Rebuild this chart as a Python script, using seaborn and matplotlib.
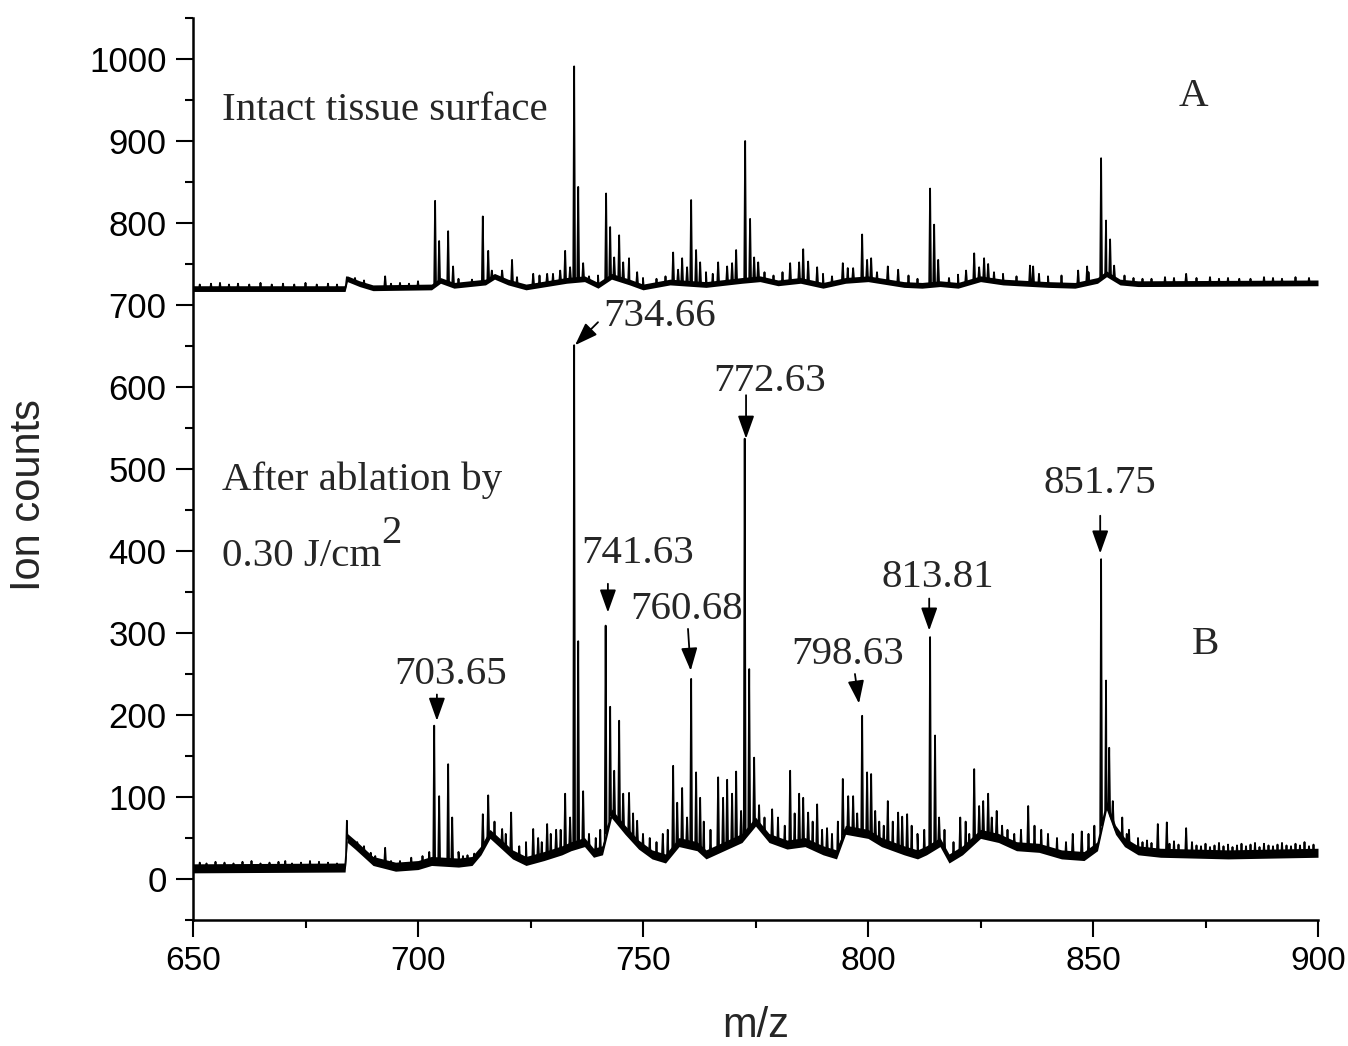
import numpy as np
import pandas as pd
import matplotlib
matplotlib.use("Agg")
import matplotlib.pyplot as plt
import seaborn as sns

# ------------------------------------------------------------------ data
# Trace A (intact tissue surface, offset spectrum)
A_base_mz = [650, 683.8, 684.3, 687, 690, 703, 705, 708, 715, 717, 720, 724, 733, 737, 740,
             743, 747, 750, 756, 764, 772, 776, 780, 785, 790, 795, 800, 808, 812, 816, 820,
             825, 830, 840, 846, 851, 853, 856, 860, 900]
A_base_val = [720, 720, 732, 726, 721, 722, 730, 724, 728, 735, 728, 722, 730, 732, 724,
              735, 728, 722, 728, 725, 730, 732, 727, 730, 724, 730, 732, 725, 724, 726, 724,
              732, 728, 725, 724, 730, 738, 728, 726, 727]
A_peak_mz = [684.2, 692.7, 703.8, 704.7, 706.7, 707.8, 714.4, 715.6, 716.4, 718.7, 720.9,
             725.6, 728.7, 731.6, 732.7, 733.8, 734.7, 735.6, 736.7, 741.8, 742.7, 743.6,
             744.7, 745.6, 746.9, 748.7, 756.7, 757.8, 758.7, 759.8, 760.7, 761.8, 762.7,
             766.7, 768.7, 769.8, 770.7, 772.7, 773.8, 774.7, 775.6, 782.7, 784.7, 785.6,
             786.7, 788.7, 794.4, 796.7, 798.7, 799.8, 800.7, 804.4, 806.7, 813.8, 814.7,
             815.6, 821.8, 823.6, 824.7, 825.8, 826.7, 836.0, 836.7, 846.7, 848.7, 851.8,
             852.9, 853.8, 854.7, 870.7]
A_peak_val = [734, 735, 827, 778, 790, 747, 808, 766, 742, 742, 755,
              738, 738, 742, 766, 746, 991, 844, 751, 836, 795, 758,
              785, 752, 757, 740, 764, 743, 757, 746, 828, 767, 752,
              752, 747, 751, 767, 900, 805, 758, 752, 751, 752, 768,
              753, 746, 751, 745, 786, 755, 757, 747, 743, 842, 798,
              755, 742, 763, 746, 757, 750, 748, 747, 742, 747, 879,
              803, 780, 748, 738]
A_minor_mz = [651.5, 654, 656, 658, 660, 662.5, 665, 667.5, 670, 672.5, 675, 677.5, 680, 682,
              686, 688, 694, 696, 698, 700, 709, 712, 722, 727, 730, 738, 740, 750, 753, 755,
              764, 765.5, 777, 779, 781, 790, 792, 795.5, 802, 809, 811, 818, 820, 828, 830,
              833, 838, 840, 843, 849, 857, 859, 861, 863, 866, 868, 873, 876, 878, 880, 882.5,
              885, 888, 890, 892, 895, 898]
A_minor_val = [725, 726, 727, 725, 726, 725, 727, 725, 726, 725, 727, 725, 726, 725,
               733, 730, 726, 727, 726, 729, 732, 731, 734, 736, 738, 735, 736, 733, 732, 735,
               740, 738, 740, 736, 740, 738, 735, 745, 740, 736, 732, 733, 737, 740, 738,
               735, 738, 735, 736, 740, 736, 733, 732, 732, 734, 733, 733, 734, 732, 733, 732,
               732, 734, 733, 732, 734, 733]
A_noise = 3.5

# Trace B (after ablation by 0.30 J/cm2)
B_base_mz = [650, 683.8, 684.3, 686, 688, 690, 695, 700, 703, 709, 712, 714, 716, 718, 721,
             724, 728, 732, 734, 737, 739, 741, 743, 746, 749, 752, 755, 758, 762, 764, 766,
             770, 772, 775, 778, 782, 786, 790, 793, 795, 800, 803, 808, 811, 813, 816, 818,
             821, 825, 829, 833, 838, 843, 848, 851, 853, 855, 857, 860, 865, 880, 900]
B_base_val = [13, 14, 50, 42, 32, 22, 15, 17, 22, 20, 22, 35, 55, 45, 30,
              22, 28, 35, 40, 45, 32, 35, 80, 60, 42, 30, 25, 45, 40, 30, 35,
              45, 50, 70, 50, 42, 45, 35, 30, 60, 55, 45, 35, 30, 35, 45, 25,
              35, 55, 50, 40, 38, 30, 28, 40, 90, 60, 45, 35, 32, 30, 32]
B_peak_mz = [684.2, 692.7, 703.6, 704.7, 706.7, 707.6, 714.4, 715.6, 718.7, 720.7, 725.6,
             726.7, 728.7, 730.7, 732.7, 733.8, 734.7, 735.6, 736.7, 741.7, 742.7, 743.6,
             744.7, 745.6, 746.9, 748.7, 754.4, 756.7, 757.6, 758.7, 759.8, 760.7, 761.8,
             762.7, 766.7, 767.8, 768.7, 769.8, 770.7, 771.8, 772.6, 773.6, 774.7, 778.7,
             782.7, 784.7, 785.6, 786.7, 788.7, 790.9, 794.4, 795.6, 796.7, 798.7, 799.8,
             800.7, 801.6, 804.4, 806.7, 807.6, 808.7, 813.8, 814.9, 815.8, 820.5, 823.6,
             824.7, 825.6, 826.7, 827.5, 828.6, 835.6, 845.5, 847.5, 851.8, 852.9, 853.6,
             854.4, 864.4, 866.4, 870.7]
B_peak_val = [71, 38, 187, 101, 140, 75, 79, 102, 61, 81, 61,
              50, 67, 60, 104, 75, 651, 290, 107, 309, 210, 132,
              193, 104, 105, 71, 55, 138, 93, 111, 75, 244, 130,
              99, 124, 99, 121, 104, 131, 83, 537, 256, 148, 85,
              132, 104, 99, 81, 91, 62, 122, 101, 101, 199, 130,
              128, 83, 95, 81, 76, 79, 295, 175, 75, 75, 134,
              89, 95, 104, 75, 83, 89, 55, 58, 390, 242, 160,
              95, 67, 69, 62]
B_minor_mz = [651.5, 653, 655, 657, 659, 661, 663, 665, 667, 669, 670.5, 672, 674, 676, 678,
              680, 682, 686.5, 688, 689.5, 690.5, 694, 696, 698.5, 701, 702.5,
              709, 710, 711, 712.5, 717, 719.5, 722.5, 724, 727.5, 729.5, 731.7, 738, 739.5,
              740.5, 747.8, 750, 751.5, 753, 755.5, 763.5, 765, 775.8, 777, 780, 781.5, 783.7,
              787.7, 789.8, 792, 793.3, 797.6, 802.5, 803.5, 805.5, 809.7, 811, 812.5, 817,
              819, 821.7, 822.5, 829.8, 831, 832.5, 834, 837, 838.5, 840, 842, 844, 849,
              850.3, 856.5, 857.5, 858, 860, 861, 862, 863, 867, 868, 869, 872, 873, 874, 875,
              876, 877, 878, 879, 880, 881, 882, 883, 884, 885, 886, 887, 888, 889, 890, 891,
              892, 893, 894, 895, 896, 897, 898, 899]
B_minor_val = [20, 19, 21, 20, 19, 21, 22, 19, 20, 21, 22, 19, 20, 22, 21,
               20, 19, 45, 40, 32, 28, 22, 22, 26, 28, 33,
               33, 28, 29, 31, 70, 55, 40, 45, 45, 55, 60, 55, 50,
               60, 80, 55, 50, 45, 60, 70, 60, 90, 75, 75, 65, 80,
               70, 60, 55, 70, 80, 70, 65, 70, 65, 55, 60, 60,
               45, 70, 55, 65, 60, 55, 60, 65, 60, 55, 50, 45, 55,
               65, 75, 55, 60, 50, 45, 47, 44, 43, 46, 42, 45, 41, 40, 43,
               39, 41, 44, 40, 42, 39, 41, 43, 40, 42, 44, 39, 43, 41, 40, 42,
               44, 41, 40, 43, 41, 45, 40, 42]
B_noise = 5.5

x_ticks = [650, 700, 750, 800, 850, 900]
y_ticks = [0, 100, 200, 300, 400, 500, 600, 700, 800, 900, 1000]

peak_labels = ["734.66", "772.63", "741.63", "760.68", "703.65", "798.63", "813.81", "851.75"]
title_A = "Intact tissue surface"
title_B1 = "After ablation by"
title_B2 = "0.30 J/cm"


# ------------------------------------------------------------------ build traces
def build_trace(base_mz, base_val, pk_mz, pk_val, mn_mz, mn_val, w_major=0.2, w_minor=0.15):
    xs = list(base_mz)
    ys = list(base_val)
    for mzs, vals, w in ((pk_mz, pk_val, w_major), (mn_mz, mn_val, w_minor)):
        for m, v in zip(mzs, vals):
            for dm in (-w, w):
                xs.append(m + dm)
                ys.append(float(np.interp(m + dm, base_mz, base_val)))
            xs.append(m)
            ys.append(v)
    df = pd.DataFrame({"mz": xs, "counts": ys}).sort_values("mz", kind="stable")
    return df.reset_index(drop=True)


dfA = build_trace(A_base_mz, A_base_val, A_peak_mz, A_peak_val, A_minor_mz, A_minor_val)
dfB = build_trace(B_base_mz, B_base_val, B_peak_mz, B_peak_val, B_minor_mz, B_minor_val)

# ------------------------------------------------------------------ style
sns.set_style("ticks")
plt.rcParams["font.family"] = ["Liberation Sans", "DejaVu Sans"]
serif = ["Liberation Serif", "DejaVu Serif"]

fig = plt.figure(figsize=(13.48, 10.46), dpi=100)
ax = fig.add_axes([193 / 1348, 126 / 1046, 1125 / 1348, 902 / 1046])

# noise band
for bmz, bval, nz in ((A_base_mz, A_base_val, A_noise), (B_base_mz, B_base_val, B_noise)):
    b = np.asarray(bval, float)
    ax.fill_between(bmz, b - nz, b + nz, color="black", lw=0, zorder=2)

sns.lineplot(data=dfA, x="mz", y="counts", ax=ax, color="black", lw=1.3,
             estimator=None, sort=False, zorder=3)
sns.lineplot(data=dfB, x="mz", y="counts", ax=ax, color="black", lw=1.3,
             estimator=None, sort=False, zorder=3)

ax.set_xlim(650, 900)
ax.set_ylim(-50, 1050)
ax.set_xticks(x_ticks)
ax.set_yticks(y_ticks)
ax.set_xticks([675, 725, 775, 825, 875], minor=True)
ax.set_yticks(np.arange(-50, 1051, 100), minor=True)
ax.tick_params(axis="both", which="major", direction="out", length=12, width=1.5,
               pad=7, color="black", labelcolor="black")
ax.tick_params(axis="x", which="major", labelsize=24)
ax.tick_params(axis="y", which="major", labelsize=25)
ax.tick_params(axis="both", which="minor", direction="out", length=6, width=1.5,
               color="black")
for s in ("top", "right"):
    ax.spines[s].set_visible(False)
for s in ("left", "bottom"):
    ax.spines[s].set_linewidth(1.8)
    ax.spines[s].set_color("black")

ax.set_xlabel("m/z", fontsize=30)
ax.set_ylabel("Ion counts", fontsize=30)
ax.xaxis.set_label_coords(0.5, -0.095)
ax.yaxis.set_label_coords(-0.128, 0.471)

# ------------------------------------------------------------------ text
fs = 29.5
ax.text(656.4, 925, title_A, fontsize=fs, family=serif, va="baseline", ha="left")
ax.text(872.2, 943, "A", fontsize=fs, family=serif, va="baseline", ha="center")
ax.text(874.9, 275, "B", fontsize=fs, family=serif, va="baseline", ha="center")
ax.text(656.4, 474, title_B1, fontsize=fs, family=serif, va="baseline", ha="left")
t2 = ax.text(656.4, 382, title_B2, fontsize=fs, family=serif, va="baseline", ha="left")
ax.annotate("2", xy=(1.0, 0.62), xycoords=t2, fontsize=fs, family=serif,
            va="bottom", ha="left")

label_layout = [
    # text pos, arrow tail, arrow head
    ((753.8, 675), (740.0, 679), (734.9, 651)),
    ((778.2, 595), (772.9, 590), (772.9, 537)),
    ((748.7, 385), (742.2, 360), (742.2, 325)),
    ((759.6, 317), (760.0, 305), (760.6, 254)),
    ((707.3, 238), (704.2, 225), (704.2, 193)),
    ((795.5, 262), (797.1, 250), (798.0, 214)),
    ((815.6, 356), (813.6, 342), (813.6, 303)),
    ((851.6, 471), (851.6, 443), (851.6, 397)),
]
for lab, (tpos, tail, head) in zip(peak_labels, label_layout):
    ax.text(tpos[0], tpos[1], lab, fontsize=fs, family=serif, va="baseline", ha="center")
    ax.annotate("", xy=head, xytext=tail,
                arrowprops=dict(arrowstyle="-|>,head_length=0.7,head_width=0.25",
                                mutation_scale=20, lw=1.3, color="black",
                                shrinkA=0, shrinkB=0))

fig.savefig("out.png", dpi=100, facecolor="white")
